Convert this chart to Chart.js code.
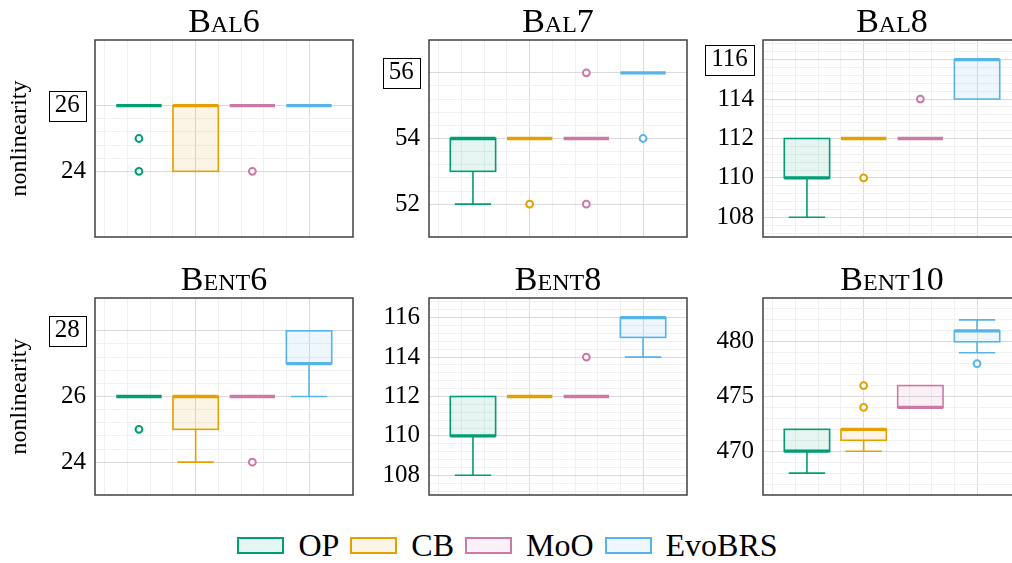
<!DOCTYPE html>
<html lang="en">
<head>
<meta charset="UTF-8">
<title>nonlinearity boxplots</title>
<script src="https://cdn.jsdelivr.net/npm/chart.js"></script>
<style>
  body { margin: 0; width: 1012px; height: 563px; overflow: hidden; background: #fff; position: relative; font-family: "Liberation Serif", serif; }
  canvas.panel { position: absolute; }
  #legend { position: absolute; left: 0; top: 526px; width: 1012px; padding-left: 14px; box-sizing: border-box; display: flex; justify-content: center; align-items: center; font-size: 32px; color: #000; }
  #legend .sw { display: inline-block; width: 43px; height: 13px; border: 2px solid; margin-right: 14px; }
  #legend .lb { margin-right: 11px; line-height: 38px; }
</style>
</head>
<body>
<div id="charts"></div>
<div id="legend"></div>

<script>
const methods = ['OP', 'CB', 'MoO', 'EvoBRS'];
const colors = ['#009E73', '#E69F00', '#CC79A7', '#56B4E9'];

// per method: lower whisker, q1, median, q3, upper whisker
const bal6Stats = [[26, 26, 26, 26, 26], [24, 24, 26, 26, 26], [26, 26, 26, 26, 26], [26, 26, 26, 26, 26]];
const bal6Outliers = [[25, 24], [], [24], []];
const bal6Ticks = [24, 26];

const bal7Stats = [[52, 53, 54, 54, 54], [54, 54, 54, 54, 54], [54, 54, 54, 54, 54], [56, 56, 56, 56, 56]];
const bal7Outliers = [[], [52], [56, 52], [54]];
const bal7Ticks = [52, 54, 56];

const bal8Stats = [[108, 110, 110, 112, 112], [112, 112, 112, 112, 112], [112, 112, 112, 112, 112], [114, 114, 116, 116, 116]];
const bal8Outliers = [[], [110], [114], []];
const bal8Ticks = [108, 110, 112, 114, 116];

const bent6Stats = [[26, 26, 26, 26, 26], [24, 25, 26, 26, 26], [26, 26, 26, 26, 26], [26, 27, 27, 28, 28]];
const bent6Outliers = [[25], [], [24], []];
const bent6Ticks = [24, 26, 28];

const bent8Stats = [[108, 110, 110, 112, 112], [112, 112, 112, 112, 112], [112, 112, 112, 112, 112], [114, 115, 116, 116, 116]];
const bent8Outliers = [[], [], [114], []];
const bent8Ticks = [108, 110, 112, 114, 116];

const bent10Stats = [[468, 470, 470, 472, 472], [470, 471, 472, 472, 472], [474, 474, 474, 476, 476], [479, 480, 481, 481, 482]];
const bent10Outliers = [[], [474, 476], [], [478]];
const bent10Ticks = [470, 475, 480];

const panels = [
  { title: 'Bal6', stats: bal6Stats, outliers: bal6Outliers, ticks: bal6Ticks, boxed: 26, min: 22, max: 28, minorAll: false },
  { title: 'Bal7', stats: bal7Stats, outliers: bal7Outliers, ticks: bal7Ticks, boxed: 56, min: 51, max: 57, minorAll: false },
  { title: 'Bal8', stats: bal8Stats, outliers: bal8Outliers, ticks: bal8Ticks, boxed: 116, min: 107, max: 117, minorAll: true },
  { title: 'Bent6', stats: bent6Stats, outliers: bent6Outliers, ticks: bent6Ticks, boxed: 28, min: 23, max: 29, minorAll: false },
  { title: 'Bent8', stats: bent8Stats, outliers: bent8Outliers, ticks: bent8Ticks, boxed: null, min: 107, max: 117, minorAll: true },
  { title: 'Bent10', stats: bent10Stats, outliers: bent10Outliers, ticks: bent10Ticks, boxed: null, min: 466, max: 484, minorAll: true }
];

const plotLefts = [95, 429, 763];
const plotTops = [40, 298];
const plotW = 258, plotH = 197;
const axisW = 95, titleH = 40;
const serif = '"Liberation Serif", serif';

function tint(hex, a) {
  const n = parseInt(hex.slice(1), 16);
  return `rgba(${n >> 16}, ${(n >> 8) & 255}, ${n & 255}, ${a})`;
}

function gridValues(p) {
  const step = (p.ticks[1] - p.ticks[0]) / 5;
  const from = p.minorAll ? p.min : p.ticks[0];
  const to = p.minorAll ? p.max : p.ticks[p.ticks.length - 1];
  const out = [];
  for (let k = Math.ceil(from / step - 1e-9); k * step <= to + 1e-9; k++) {
    const v = Math.round(k * step * 1000) / 1000;
    if (v > p.min && v < p.max) out.push(v);
  }
  return out;
}

const xGrid = [];
for (let k = 1; k <= 10; k++) xGrid.push(Math.round(k * 0.4 * 10) / 10);

function boxPlugin(p) {
  return {
    id: 'boxes',
    beforeDatasetsDraw(chart) {
      const { ctx, scales: { x, y } } = chart;
      ctx.save();
      p.stats.forEach((s, i) => {
        const [lo, q1, med, q3, hi] = s;
        const c = i + 1;
        const xc = x.getPixelForValue(c);
        const xl = x.getPixelForValue(c - 0.4), xr = x.getPixelForValue(c + 0.4);
        const wl = x.getPixelForValue(c - 0.32), wr = x.getPixelForValue(c + 0.32);
        ctx.strokeStyle = colors[i];
        ctx.lineWidth = 1.6;
        if (q3 > q1) {
          const yt = y.getPixelForValue(q3), yb = y.getPixelForValue(q1);
          ctx.fillStyle = tint(colors[i], 0.1);
          ctx.fillRect(xl, yt, xr - xl, yb - yt);
          ctx.strokeRect(xl, yt, xr - xl, yb - yt);
        }
        ctx.beginPath();
        if (hi > q3) {
          ctx.moveTo(xc, y.getPixelForValue(q3));
          ctx.lineTo(xc, y.getPixelForValue(hi));
          ctx.moveTo(wl, y.getPixelForValue(hi));
          ctx.lineTo(wr, y.getPixelForValue(hi));
        }
        if (lo < q1) {
          ctx.moveTo(xc, y.getPixelForValue(q1));
          ctx.lineTo(xc, y.getPixelForValue(lo));
          ctx.moveTo(wl, y.getPixelForValue(lo));
          ctx.lineTo(wr, y.getPixelForValue(lo));
        }
        ctx.stroke();
        ctx.lineWidth = 3.3;
        ctx.beginPath();
        ctx.moveTo(xl, y.getPixelForValue(med));
        ctx.lineTo(xr, y.getPixelForValue(med));
        ctx.stroke();
      });
      ctx.restore();
    },
    afterDraw(chart) {
      const { ctx, chartArea: a, scales: { y } } = chart;
      ctx.save();
      ctx.strokeStyle = '#404040';
      ctx.lineWidth = 1.5;
      ctx.strokeRect(a.left, a.top, a.right - a.left, a.bottom - a.top);

      ctx.fillStyle = '#000';
      ctx.font = 'small-caps 34px ' + serif;
      ctx.textAlign = 'center';
      ctx.textBaseline = 'alphabetic';
      ctx.fillText(p.title, (a.left + a.right) / 2, a.top - 8);

      if (p.boxed !== null) {
        ctx.font = '25px ' + serif;
        const tw = ctx.measureText(String(p.boxed)).width;
        const sw = ctx.measureText(' ').width;
        const right = y.right - 9;
        const yc = y.getPixelForValue(p.boxed);
        ctx.strokeStyle = '#000';
        ctx.lineWidth = 1;
        ctx.strokeRect(Math.round(right - sw - tw - 6) + 0.5, Math.round(yc - 15) + 0.5, Math.round(tw + sw + 6), 30);
      }
      ctx.restore();
    }
  };
}

const holder = document.getElementById('charts');
panels.forEach((p, idx) => {
  const col = idx % 3, row = Math.floor(idx / 3);
  const cv = document.createElement('canvas');
  cv.className = 'panel';
  cv.width = axisW + plotW + 2;
  cv.height = titleH + plotH + 2;
  cv.style.left = (plotLefts[col] - axisW) + 'px';
  cv.style.top = (plotTops[row] - titleH) + 'px';
  holder.appendChild(cv);

  const yGrid = gridValues(p);
  const datasets = methods.map((m, i) => ({
    label: m,
    data: p.outliers[i].map(v => ({ x: i + 1, y: v })),
    pointRadius: 3.4,
    pointBorderWidth: 2,
    pointBackgroundColor: '#fff',
    pointBorderColor: colors[i],
    showLine: false
  }));

  new Chart(cv, {
    type: 'scatter',
    data: { datasets: datasets },
    plugins: [boxPlugin(p)],
    options: {
      responsive: false,
      animation: false,
      events: [],
      layout: { autoPadding: false, padding: { top: titleH, right: 2, bottom: 2, left: 0 } },
      plugins: { legend: { display: false }, tooltip: { enabled: false }, title: { display: false } },
      scales: {
        x: {
          type: 'linear',
          min: 0.225,
          max: 4.775,
          afterBuildTicks: s => { s.ticks = xGrid.map(v => ({ value: v })); },
          afterFit: s => { s.height = 0; s.paddingLeft = 0; s.paddingRight = 0; s.paddingTop = 0; s.paddingBottom = 0; },
          ticks: { display: false },
          border: { display: false },
          grid: {
            drawTicks: false,
            color: c => (c.tick && (c.tick.value === 2 || c.tick.value === 4)) ? '#dadada' : '#f0f0f0',
            lineWidth: 1
          }
        },
        y: {
          min: p.min,
          max: p.max,
          afterBuildTicks: s => { s.ticks = yGrid.map(v => ({ value: v })); },
          afterFit: s => { s.width = axisW; s.paddingTop = 0; s.paddingBottom = 0; s.paddingLeft = 0; s.paddingRight = 0; },
          border: { display: false },
          grid: {
            drawTicks: false,
            color: c => (c.tick && p.ticks.includes(c.tick.value)) ? '#dadada' : '#f0f0f0',
            lineWidth: 1
          },
          ticks: {
            autoSkip: false,
            padding: 9,
            color: '#000',
            font: { family: serif, size: 25 },
            callback: v => p.ticks.includes(v) ? (v === p.boxed ? v + ' ' : String(v)) : ''
          },
          title: {
            display: col === 0,
            text: 'nonlinearity',
            color: '#000',
            font: { family: serif, size: 24 },
            padding: { top: 5, bottom: 0 }
          }
        }
      }
    }
  });
});

const legend = document.getElementById('legend');
methods.forEach((m, i) => {
  const sw = document.createElement('span');
  sw.className = 'sw';
  sw.style.borderColor = colors[i];
  sw.style.background = tint(colors[i], 0.1);
  const lb = document.createElement('span');
  lb.className = 'lb';
  lb.textContent = m;
  legend.appendChild(sw);
  legend.appendChild(lb);
});
</script>
</body>
</html>
